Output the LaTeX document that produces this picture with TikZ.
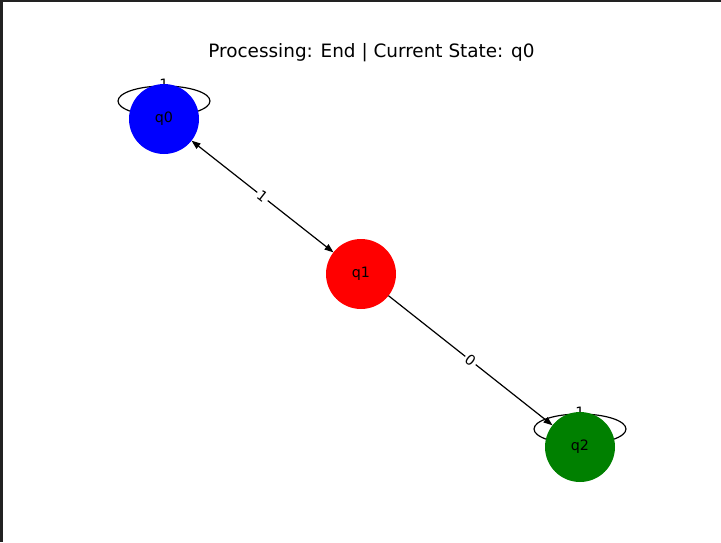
\documentclass[tikz,border=0pt]{standalone}
\usepackage{fontspec}
\setmainfont{DejaVu Sans}
\usetikzlibrary{arrows.meta,backgrounds}
\definecolor{stgreen}{RGB}{0,128,0}
\definecolor{frame}{RGB}{34,34,34}
\begin{document}
\begin{tikzpicture}[x=1pt,y=-1pt,>={Triangle[length=9pt,width=6.5pt]},
		state/.style={circle,minimum size=70pt,inner sep=0pt,outer sep=0pt,font=\fontsize{14.3}{16}\selectfont},
		elabel/.style={font=\fontsize{14.3}{16}\selectfont,fill=white,inner sep=2pt},
		llabel/.style={font=\fontsize{14.3}{16}\selectfont,inner sep=0pt},
		trans/.style={line width=1.2pt}]
		\useasboundingbox (0,0) rectangle (721,542);
		\fill[frame] (0,0) rectangle (721,2); \fill[frame] (0,0) rectangle (3,542);
		
		\node[font=\fontsize{18.4}{22}\selectfont,anchor=base] (title) at (371.5,57.5) {Processing: End | Current State: q0};
		
		\node[state,fill=blue] (q0) at (164,119) {q0};
		\node[state,fill=red] (q1) at (361,274) {q1};
		\node[state,fill=stgreen] (q2) at (580,447) {q2};
		
		\begin{scope}[on background layer]
			\draw[trans] ([yshift=18pt]q0.center) ellipse (46pt and 15pt);
			\node[llabel] (l0) at ([yshift=35pt]q0.center) {1};
			\draw[trans] ([yshift=18pt]q2.center) ellipse (46pt and 15pt);
			\node[llabel] (l2) at ([yshift=35pt]q2.center) {1};
		\end{scope}
		
		\draw[trans,<->] (q0) -- node[elabel,sloped] (e01) {1} (q1);
		\draw[trans,->] (q1) -- node[elabel,sloped] (e12) {0} (q2);
\end{tikzpicture}
\end{document}
